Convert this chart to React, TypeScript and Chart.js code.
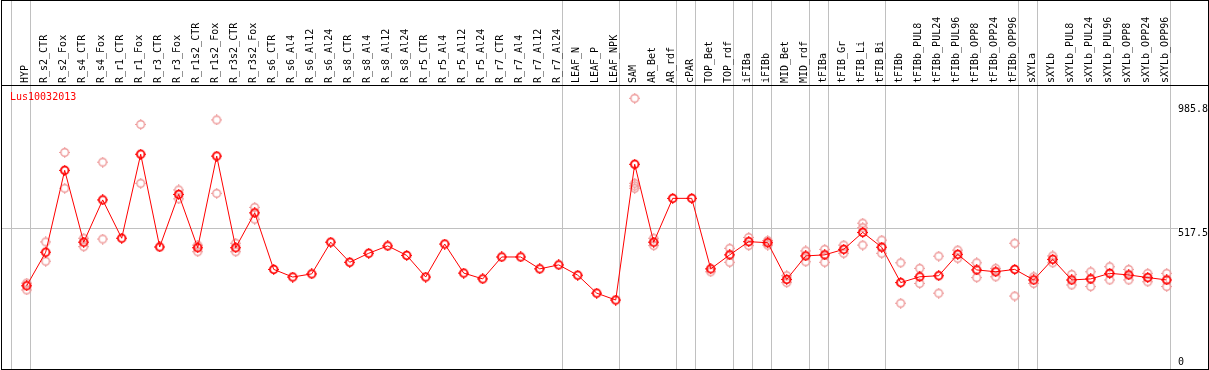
import React, { useEffect, useRef } from "react";
import { Chart, registerables } from "chart.js";

Chart.register(...registerables);

const categories: string[] = [
  "HYP", "R_s2_CTR", "R_s2_Fox", "R_s4_CTR", "R_s4_Fox", "R_r1_CTR", "R_r1_Fox", "R_r3_CTR", "R_r3_Fox",
  "R_r1s2_CTR", "R_r1s2_Fox", "R_r3s2_CTR", "R_r3s2_Fox", "R_s6_CTR", "R_s6_Al4", "R_s6_Al12", "R_s6_Al24",
  "R_s8_CTR", "R_s8_Al4", "R_s8_Al12", "R_s8_Al24", "R_r5_CTR", "R_r5_Al4", "R_r5_Al12", "R_r5_Al24",
  "R_r7_CTR", "R_r7_Al4", "R_r7_Al12", "R_r7_Al24", "LEAF_N", "LEAF_P", "LEAF_NPK", "SAM", "AR_Bet", "AR_rdf",
  "cPAR", "TOP_Bet", "TOP_rdf", "iFIBa", "iFIBb", "MID_Bet", "MID_rdf", "tFIBa", "tFIB_Gr", "tFIB_Li", "tFIB_Bi",
  "tFIBb", "tFIBb_PUL8", "tFIBb_PUL24", "tFIBb_PUL96", "tFIBb_OPP8", "tFIBb_OPP24", "tFIBb_OPP96",
  "sXYLa", "sXYLb", "sXYLb_PUL8", "sXYLb_PUL24", "sXYLb_PUL96", "sXYLb_OPP8", "sXYLb_OPP24", "sXYLb_OPP96",
];

const meanValues: number[] = [
  300, 427, 737, 465, 625, 480, 798, 447, 646, 444, 791, 444, 576, 362, 333, 345, 465,
  389, 423, 451, 415, 333, 458, 348, 326, 409, 409, 364, 379, 340, 272, 246, 760, 465, 631,
  631, 364, 417, 467, 463, 324, 413, 417, 438, 502, 446, 312, 334, 338, 419, 360, 353, 362,
  322, 400, 322, 326, 347, 341, 331, 322,
];

const repA: (number | null)[] = [
  310, 466, 805, 480, 768, null, 911, null, 663, 454, 928, 461, 597, null, null, null, null,
  null, null, null, null, null, null, null, null, null, null, null, null, null, null, null, 1010, 480, null,
  null, 353, 442, 483, 471, 338, 432, 438, 454, 537, 473, 387, 366, 412, 435, 387, 366, 461,
  334, 413, 343, 353, 372, 362, 347, 347,
];

const repB: (number | null)[] = [
  284, 393, 669, 448, 477, null, 688, null, 629, 429, 650, 429, 552, null, null, null, null,
  null, null, null, null, null, null, null, null, null, null, null, null, null, null, null, 688, 452, null,
  null, null, 389, 452, 454, 312, 391, 389, 423, 520, 423, 234, 309, 272, 404, 331, 334, 261,
  309, 387, 303, 297, 322, 322, 315, 297,
];

const repC: (number | null)[] = [
  null, null, null, null, null, null, null, null, null, null, null, null, null, null, null, null, null,
  null, null, null, null, null, null, null, null, null, null, null, null, null, null, null, 678, null, null,
  null, null, null, null, null, null, null, null, null, 454, null, null, null, null, null, null, null, null,
  null, null, null, null, null, null, null, null,
];

const repD: (number | null)[] = [
  null, null, null, null, null, null, null, null, null, null, null, null, null, null, null, null, null,
  null, null, null, null, null, null, null, null, null, null, null, null, null, null, null, 669, null, null,
  null, null, null, null, null, null, null, null, null, null, null, null, null, null, null, null, null, null,
  null, null, null, null, null, null, null, null,
];

// index of last category in each group (-1 = leading edge)
const groupEnds: number[] = [-1, 0, 28, 31, 34, 35, 37, 38, 39, 41, 42, 45, 52, 53, 60];

const yTickLabels: number[] = [0, 517.5, 985.8];
const yGridValues: number[] = [517.5];
const geneName = "Lus10032013";

const FONT = "10px 'DejaVu Sans Mono', monospace";

function makeMarker(color: string, lw: number): HTMLCanvasElement {
  const c = document.createElement("canvas");
  c.width = 11;
  c.height = 11;
  const g = c.getContext("2d")!;
  g.strokeStyle = color;
  g.fillStyle = color;
  g.lineWidth = lw;
  g.beginPath();
  g.arc(5.5, 5.5, 3.8, 0, Math.PI * 2);
  g.stroke();
  g.fillRect(5, 0, 1, 2);
  g.fillRect(5, 9, 1, 2);
  g.fillRect(0, 5, 2, 1);
  g.fillRect(9, 5, 2, 1);
  return c;
}

const toPts = (arr: (number | null)[]) =>
  arr.map((v, i) => ({ x: i, y: v === null ? NaN : v })).filter((p) => !isNaN(p.y));

export default function App() {
  const ref = useRef<HTMLCanvasElement | null>(null);

  useEffect(() => {
    if (!ref.current) return;
    document.body.style.margin = "0";
    const meanMarker = makeMarker("#ff0000", 1.8);
    const repMarker = makeMarker("#ee9a9a", 1.4);

    const decor = {
      id: "decor",
      beforeDraw(chart: any) {
        const { ctx, chartArea, scales } = chart;
        const x = scales.x;
        const y = scales.y;
        ctx.save();
        ctx.fillStyle = "#ffffff";
        ctx.fillRect(0, 0, chart.width, chart.height);
        ctx.strokeStyle = "#c0c0c0";
        ctx.lineWidth = 1;
        groupEnds.forEach((k) => {
          const px = Math.floor(x.getPixelForValue(k + 0.2)) + 0.5;
          ctx.beginPath();
          ctx.moveTo(px, 0);
          ctx.lineTo(px, chart.height);
          ctx.stroke();
        });
        yGridValues.forEach((v) => {
          const py = Math.floor(y.getPixelForValue(v)) + 0.5;
          ctx.beginPath();
          ctx.moveTo(chartArea.left, py);
          ctx.lineTo(chartArea.right - 29, py);
          ctx.stroke();
        });
        ctx.restore();
      },
      afterDraw(chart: any) {
        const { ctx, chartArea, scales } = chart;
        const y = scales.y;
        ctx.save();
        ctx.font = FONT;
        ctx.fillStyle = "#000000";
        ctx.textAlign = "left";
        ctx.textBaseline = "alphabetic";
        yTickLabels.forEach((v) => {
          const py = y.getPixelForValue(v);
          const base = v === 0 ? py : py + 7.5;
          ctx.fillText(String(v), chartArea.right - 29, base);
        });
        ctx.fillStyle = "#ff0000";
        ctx.fillText(geneName, chartArea.left + 8, chartArea.top + 14);
        ctx.strokeStyle = "#000000";
        ctx.lineWidth = 1;
        ctx.strokeRect(1.5, 0.5, chart.width - 2, chart.height - 1);
        ctx.fillStyle = "#000000";
        ctx.fillRect(1, chartArea.top - 1, chart.width - 1, 1);
        ctx.restore();
      },
    };

    const repDs = (arr: (number | null)[]) => ({
      data: toPts(arr),
      showLine: false,
      pointStyle: repMarker,
      pointRadius: 4,
      borderColor: "#ee9a9a",
      backgroundColor: "#ee9a9a",
      order: 2,
    });

    const chart = new Chart(ref.current, {
      type: "line",
      data: {
        datasets: [
          {
            data: meanValues.map((v, i) => ({ x: i, y: v })),
            borderColor: "#ff0000",
            backgroundColor: "#ff0000",
            borderWidth: 1,
            pointStyle: meanMarker,
            pointRadius: 4,
            order: 0,
          } as any,
          repDs(repA),
          repDs(repB),
          repDs(repC),
          repDs(repD),
        ],
      },
      options: {
        animation: false,
        responsive: false,
        devicePixelRatio: 1,
        layout: { autoPadding: false, padding: { left: 2, right: 2, top: 0, bottom: 2 } },
        plugins: { legend: { display: false }, tooltip: { enabled: false }, title: { display: false } },
        scales: {
          x: {
            type: "linear",
            position: "top",
            min: -1.3,
            max: 62.12,
            grid: { display: false, drawTicks: false },
            border: { display: false },
            afterBuildTicks: (scale: any) => {
              scale.ticks = categories.map((_, i) => ({ value: i }));
            },
            afterFit: (scale: any) => {
              scale.height = 86;
              scale.paddingLeft = 0;
              scale.paddingRight = 0;
            },
            ticks: {
              autoSkip: false,
              minRotation: 90,
              maxRotation: 90,
              padding: 3,
              labelOffset: 11,
              color: "#000000",
              font: { family: "'DejaVu Sans Mono', monospace", size: 10 },
              callback: (v: any) => categories[Math.round(Number(v))] ?? "",
            },
          },
          y: {
            type: "linear",
            display: false,
            min: -11.4,
            max: 1056.4,
          },
        },
      },
      plugins: [decor],
    } as any);

    return () => chart.destroy();
  }, []);

  return (
    <div style={{ position: "absolute", left: 0, top: 0, width: 1209, height: 370, background: "#fff" }}>
      <canvas ref={ref} width={1209} height={370} style={{ display: "block" }} />
    </div>
  );
}
